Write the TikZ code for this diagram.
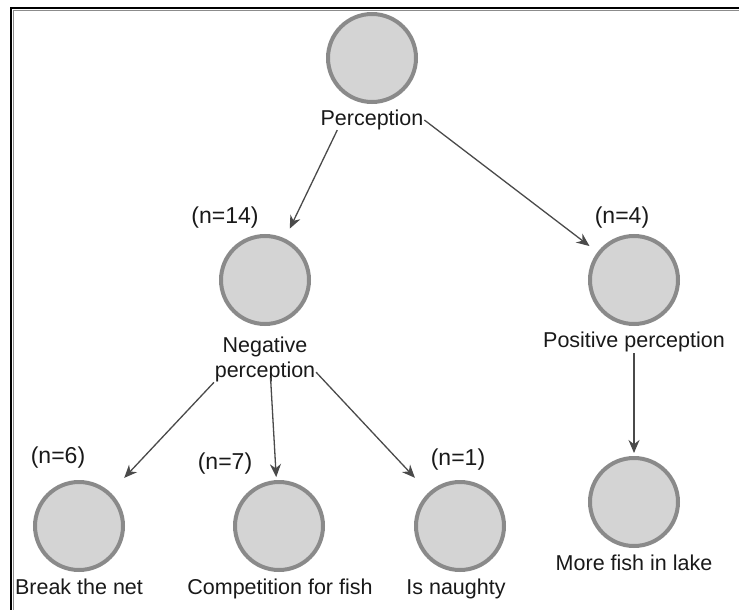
\documentclass[tikz,border=0pt]{standalone}
\usepackage{fontspec}
\setmainfont{Liberation Sans}
\usetikzlibrary{arrows.meta}
\definecolor{nodefill}{HTML}{D4D4D4}
\definecolor{nodeedge}{HTML}{8A8A8A}
\definecolor{linkcol}{HTML}{4A4A4A}
\begin{document}
\begin{tikzpicture}[x=1pt,y=-1pt,
  topic/.style={circle, draw=nodeedge, fill=nodefill, line width=4pt,
                minimum size=88pt, inner sep=0pt},
  caption/.style={anchor=base, inner sep=0pt, text=black!90,
                  font=\fontsize{21.5}{25}\selectfont},
  count/.style={caption, font=\fontsize{23}{25}\selectfont},
  link/.style={draw=linkcol, line width=1.3pt,
               -{Stealth[length=13pt,width=11pt]}}]
\useasboundingbox (0,0) rectangle (739,610);

% window frame
\draw[black!45, line width=0.8pt] (13,610) -- (13,10) -- (739,10);
\draw[black, line width=2.5pt] (11,610) -- (11,8) -- (739,8);

% topic circles
\node[topic] (perc) at (372,58)  {};
\node[topic] (neg)  at (265,280) {};
\node[topic] (pos)  at (634,280) {};
\node[topic] (fish) at (634,502) {};
\node[topic] (net)  at (79,526)  {};
\node[topic] (comp) at (279,526) {};
\node[topic] (naug) at (460,526) {};

% captions
\node[caption] (percL) at (372,125) {Perception};
\node[caption] (negL1) at (265,352) {Negative};
\node[caption] (negL2) at (265,377) {perception};
\node[count]   (negN)  at (225,223) {(n=14)};
\node[caption] (posL)  at (634,347) {Positive perception};
\node[count]   (posN)  at (622,223) {(n=4)};
\node[caption] (fishL) at (634,570) {More fish in lake};
\node[caption] (netL)  at (79,594)  {Break the net};
\node[count]   (netN)  at (58,463)  {(n=6)};
\node[caption] (compL) at (280,594) {Competition for fish};
\node[count]   (compN) at (225,469) {(n=7)};
\node[caption] (naugL) at (456,594) {Is naughty};
\node[count]   (naugN) at (458,465) {(n=1)};

% connectors
\draw[link, shorten <=80pt, shorten >=57pt] (perc.center) -- (neg.center);
\draw[link, shorten <=1pt, shorten >=56pt] (percL.east) -- (pos.center);
\draw[link, shorten <=1pt, shorten >=66pt] (negL2.south west) -- (net.center);
\draw[link, shorten <=98pt, shorten >=49pt] (neg.center) -- (comp.center);
\draw[link, shorten <=1pt, shorten >=66pt] (negL2.east) -- (naug.center);
\draw[link, shorten <=73pt, shorten >=49pt] (pos.center) -- (fish.center);
\end{tikzpicture}
\end{document}
